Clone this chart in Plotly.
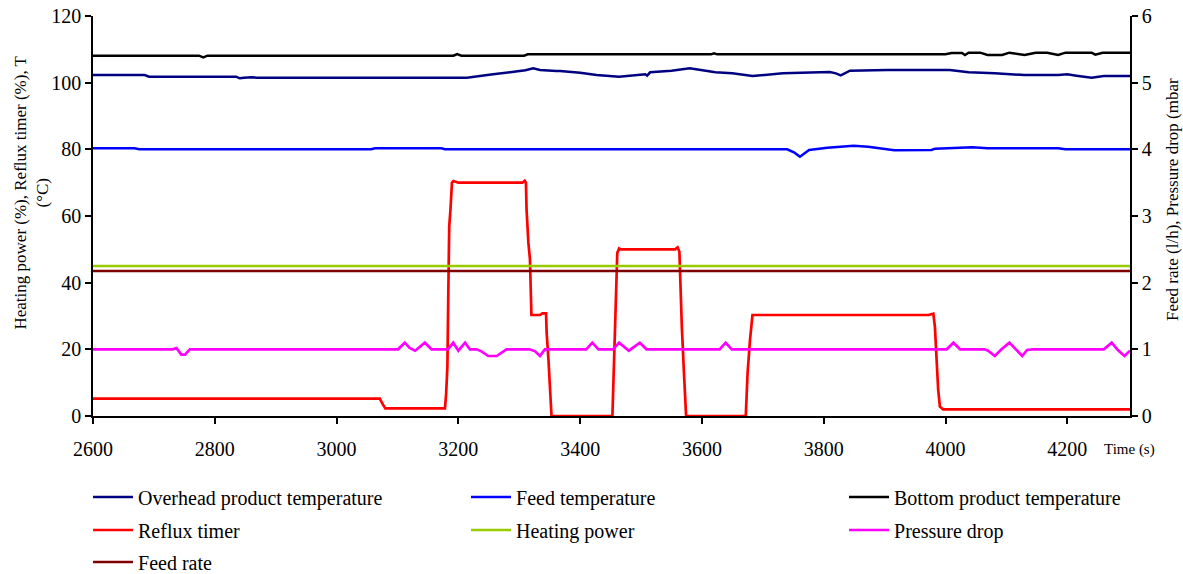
import plotly.graph_objects as go

# ---------------- data ----------------
overhead_t = [2600, 2685, 2692, 2835, 2841, 2848, 2860, 2869, 3214, 3235, 3257, 3285, 3310, 3323, 3334,
              3361, 3367, 3400, 3427, 3464, 3490, 3507, 3510, 3515, 3550, 3580, 3622, 3650, 3683, 3733,
              3794, 3810, 3820, 3828, 3843, 3904, 4007, 4038, 4081, 4130, 4185, 4200, 4215, 4240, 4260, 4303]
overhead_v = [102.3, 102.3, 101.8, 101.8, 101.3, 101.5, 101.6, 101.5, 101.5, 101.9, 102.5, 103.1, 103.7, 104.3, 103.8,
              103.5, 103.5, 103.0, 102.3, 101.8, 102.3, 102.5, 102.1, 103.1, 103.6, 104.3, 103.1, 102.8, 102.0, 102.8,
              103.1, 103.2, 102.8, 102.2, 103.6, 103.8, 103.8, 103.1, 102.8, 102.3, 102.3, 102.5, 102.1, 101.5, 102.0, 102.0]

feedtemp_t = [2600, 2668, 2676, 3057, 3063, 3172, 3178, 3740, 3752, 3761, 3776, 3806, 3849, 3873, 3916,
              3977, 3983, 4044, 4069, 4185, 4197, 4303]
feedtemp_v = [80.3, 80.3, 80.0, 80.0, 80.3, 80.3, 80.0, 80.0, 79.0, 77.8, 79.8, 80.5, 81.1, 80.8, 79.7,
              79.8, 80.2, 80.6, 80.3, 80.3, 80.0, 80.0]

bottom_t = [2600, 2774, 2781, 2788, 3192, 3198, 3205, 3308, 3314, 3615, 3620, 3625, 4000, 4010, 4027, 4032,
            4038, 4057, 4069, 4093, 4105, 4118, 4130, 4148, 4167, 4185, 4197, 4240, 4246, 4258, 4303]
bottom_v = [108.1, 108.1, 107.6, 108.1, 108.1, 108.6, 108.1, 108.1, 108.5, 108.5, 108.8, 108.5, 108.5, 108.9, 108.9, 108.3,
            109.0, 109.0, 108.3, 108.3, 109.0, 108.6, 108.3, 109.0, 109.0, 108.3, 109.0, 109.0, 108.4, 109.0, 109.0]

reflux_t = [2600, 3071, 3076, 3080, 3175, 3178, 3180, 3182, 3183.5, 3185, 3187, 3189.5, 3192, 3200, 3305, 3309,
            3311, 3312, 3315, 3317.6, 3319, 3320, 3334, 3338, 3344, 3345, 3348, 3350.4, 3353,
            3453, 3454, 3457, 3458.6, 3461, 3464, 3467, 3556, 3560, 3563, 3565, 3567, 3570.5, 3574,
            3672, 3675, 3679, 3681.5, 3683, 3972, 3977, 3980, 3982.6, 3985, 3988, 3990.8, 3996, 4303]
reflux_v = [5.2, 5.2, 3.5, 2.3, 2.3, 2.3, 6.9, 14.8, 36.8, 56.8, 61.8, 70.0, 70.5, 70.0, 70.0, 70.6,
            70.0, 62.0, 52.0, 47.0, 37.0, 30.3, 30.3, 30.8, 30.8, 25.0, 16.8, 8.8, 0.0,
            0.0, 6.9, 25.0, 38.8, 48.9, 50.3, 50.0, 50.0, 50.6, 49.3, 36.9, 26.8, 12.9, 0.0,
            0.0, 12.9, 22.9, 27.8, 30.3, 30.3, 30.7, 30.7, 26.8, 16.8, 7.8, 2.8, 2.0, 2.0]

heating_t = [2600, 4303]
heating_v = [45, 45]

pressure_t = [2600, 2731, 2737, 2745, 2751, 2759, 3101, 3112, 3120, 3129, 3145, 3156, 3183, 3191.6, 3200, 3211,
              3219, 3230, 3238, 3249, 3263, 3279, 3317, 3326, 3334, 3342, 3410, 3420, 3430, 3454, 3464, 3480,
              3498, 3509, 3629, 3639, 3649, 4002, 4013, 4024, 4064, 4070, 4081, 4092, 4105, 4115, 4126, 4134,
              4143, 4260, 4273, 4283, 4294, 4303]
pressure_v = [1.0, 1.0, 1.02, 0.92, 0.92, 1.0, 1.0, 1.1, 1.02, 0.98, 1.1, 1.0, 1.0, 1.1, 0.98, 1.1,
              1.0, 1.0, 0.97, 0.9, 0.9, 1.0, 1.0, 0.97, 0.9, 1.0, 1.0, 1.1, 1.0, 1.0, 1.1, 0.98,
              1.1, 1.0, 1.0, 1.1, 1.0, 1.0, 1.1, 1.0, 1.0, 0.98, 0.9, 1.0, 1.1, 1.0, 0.9, 0.99,
              1.0, 1.0, 1.1, 0.99, 0.9, 0.98]

feedrate_t = [2600, 4303]
feedrate_v = [2.175, 2.175]

x_ticks = [2600, 2800, 3000, 3200, 3400, 3600, 3800, 4000, 4200]

FONT = "Liberation Serif, 'Times New Roman', Times, 'DejaVu Serif', serif"

fig = go.Figure()

def add(name, t, v, color, width, yaxis, legend):
    fig.add_trace(go.Scatter(x=t, y=v, name=name, mode="lines",
                             line=dict(color=color, width=width),
                             yaxis=yaxis, legend=legend))

add("Overhead product temperature", overhead_t, overhead_v, "#000080", 2.5, "y", "legend")
add("Feed temperature", feedtemp_t, feedtemp_v, "#0000FF", 2.5, "y", "legend")
add("Bottom product temperature", bottom_t, bottom_v, "#000000", 2.5, "y", "legend")
add("Reflux timer", reflux_t, reflux_v, "#FF0000", 2.7, "y", "legend2")
add("Heating power", heating_t, heating_v, "#99CC00", 2.7, "y", "legend2")
add("Pressure drop", pressure_t, pressure_v, "#FF00FF", 2.7, "y2", "legend2")
add("Feed rate", feedrate_t, feedrate_v, "#800000", 2.7, "y2", "legend3")

axis_common = dict(showline=True, linecolor="black", linewidth=1.5, ticks="outside",
                   ticklen=6, tickwidth=1.5, tickcolor="black", showgrid=False, zeroline=False,
                   tickfont=dict(family=FONT, size=20, color="black"))

fig.update_layout(
    width=1183, height=574,
    margin=dict(l=93, r=53, t=16, b=158, autoexpand=False),
    plot_bgcolor="white", paper_bgcolor="white",
    font=dict(family=FONT, color="black"),
    xaxis=dict(range=[2600, 4303], tickvals=x_ticks, ticklabelstandoff=8, **axis_common),
    yaxis=dict(range=[0, 120], dtick=20, **axis_common),
    yaxis2=dict(range=[0, 6], dtick=1, overlaying="y", side="right", anchor="x", **axis_common),
)

leg_common = dict(orientation="h", xref="paper", yref="paper", x=-0.0048, xanchor="left",
                  yanchor="middle", entrywidth=323, bgcolor="rgba(0,0,0,0)",
                  font=dict(family=FONT, size=20, color="black"), itemwidth=40, tracegroupgap=0)
fig.update_layout(
    legend=dict(y=-0.2025, **leg_common),
    legend2=dict(y=-0.285, **leg_common),
    legend3=dict(y=-0.365, **leg_common),
)

fig.add_annotation(text="Heating power (%), Reflux timer (%), T<br>(°C)", textangle=-90,
                   xref="paper", yref="paper", x=(8 - 93) / 1037, y=(416 - 193) / 400,
                   xanchor="left", yanchor="middle", showarrow=False,
                   font=dict(family=FONT, size=17, color="black"))
fig.add_annotation(text="Feed rate (l/h), Pressure drop (mbar", textangle=-90,
                   xref="paper", yref="paper", x=(1172 - 93) / 1037, y=(416 - 200) / 400,
                   xanchor="center", yanchor="middle", showarrow=False,
                   font=dict(family=FONT, size=17, color="black"))
fig.add_annotation(text="Time (s)", xref="paper", yref="paper",
                   x=(1129 - 93) / 1037, y=(416 - 449) / 400,
                   xanchor="center", yanchor="middle", showarrow=False,
                   font=dict(family=FONT, size=15, color="black"))

fig.write_html("out.html")
